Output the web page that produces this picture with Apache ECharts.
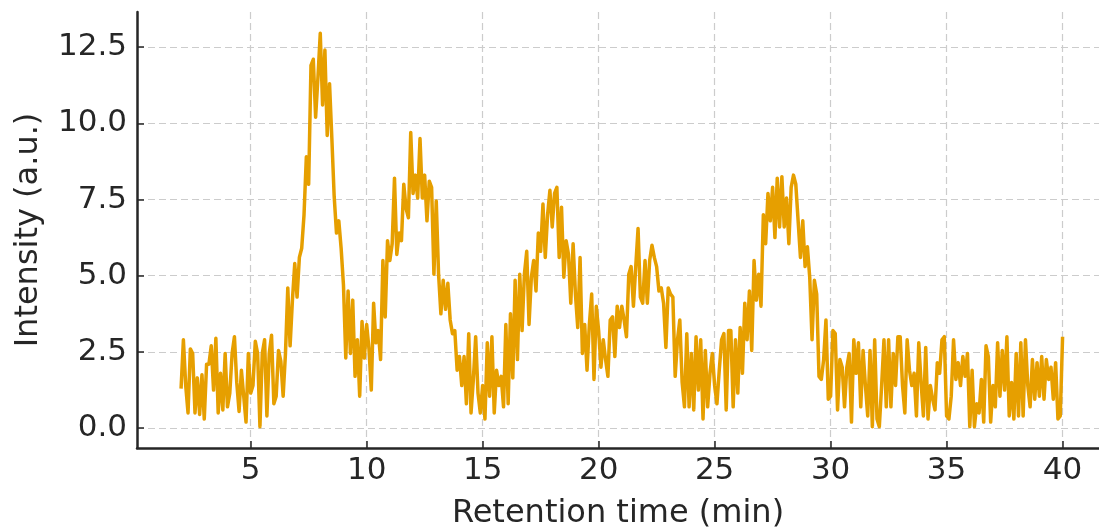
<!DOCTYPE html>
<html>
<head>
<meta charset="utf-8">
<script src="https://cdn.jsdelivr.net/npm/echarts@6/dist/echarts.min.js"></script>
<style>
  html, body { margin: 0; padding: 0; background: #fff; }
  #chart { width: 1099px; height: 528px; }
</style>
</head>
<body>
<div id="chart"></div>
<script>
// sampling grid of the trace (min)
const timeStart = 2.0;
const timeStep = 0.1;

// intensity, one value every 0.1 min
const baseline1 = [ // 2.0 - 6.6
  1.3, 2.9, 1.4, 0.5, 2.6, 2.45, 0.5, 1.65, 0.45, 1.75,
  0.3, 2.1, 2.1, 2.7, 1.25, 2.95, 0.5, 1.8, 0.6, 2.45,
  0.7, 1.15, 2.45, 3.0, 1.5, 0.55, 1.9, 1.05, 0.2, 2.45,
  1.15, 1.4, 2.85, 2.45, 0.05, 2.45, 2.9, 0.4, 2.45, 3.05,
  0.8, 1.05, 2.55, 2.2, 1.05, 2.45, 4.6
];
const peak1 = [ // 6.7 - 9.1
  2.7, 4.2, 5.4, 4.3, 5.6, 5.9, 7.0, 8.9, 8.0, 11.9,
  12.1, 10.2, 11.5, 12.95, 10.6, 12.4, 9.6, 11.3, 9.5, 7.6,
  6.4, 6.8, 5.9, 4.7, 2.3
];
const valley1 = [ // 9.2 - 11.3
  4.5, 2.45, 4.2, 1.7, 2.9, 1.05, 3.5, 2.3, 3.4, 2.6,
  1.25, 4.1, 2.8, 3.2, 2.25, 5.5, 3.65, 6.15, 5.5, 6.05,
  8.2, 5.7
];
const peak2 = [ // 11.4 - 16.1
  6.4, 6.15, 8.0, 7.2, 6.9, 9.7, 7.7, 8.3, 7.55, 9.5,
  7.55, 8.3, 6.8, 8.1, 7.9, 5.05, 7.45, 5.05, 3.75, 4.85,
  3.9, 4.75, 3.55, 3.1, 3.2, 1.9, 2.35, 1.4, 2.35, 0.8,
  3.1, 0.5, 1.6, 3.0, 1.15, 0.5, 1.4, 0.3, 2.8, 1.05,
  3.0, 0.5, 1.9, 1.4, 1.7, 0.7, 3.4, 0.8
];
const peak3 = [ // 16.2 - 20.8
  3.75, 1.65, 4.85, 2.25, 5.05, 3.2, 5.05, 5.8, 3.4, 4.95,
  5.5, 4.5, 6.4, 5.8, 7.35, 5.6, 7.0, 7.8, 6.6, 7.7,
  7.9, 5.6, 7.25, 4.95, 6.15, 5.7, 4.1, 6.05, 4.4, 3.3,
  5.6, 2.45, 3.4, 1.9, 3.4, 4.4, 1.6, 4.0, 3.2, 2.0,
  2.9, 2.25, 1.7, 3.55, 3.65, 2.35, 4.0
];
const peak4 = [ // 20.9 - 25.6
  3.3, 4.0, 3.55, 3.0, 5.05, 5.3, 4.0, 5.3, 6.55, 4.3,
  4.1, 5.5, 4.1, 5.5, 6.0, 5.6, 5.3, 4.5, 4.6, 4.1,
  2.65, 4.6, 4.4, 4.3, 1.7, 2.9, 3.55, 1.5, 0.7, 3.1,
  0.7, 2.45, 0.6, 3.0, 1.25, 2.9, 0.3, 2.55, 0.7, 1.8,
  2.45, 1.4, 0.8, 1.9, 2.9, 3.1, 0.6, 3.2
];
const peak5 = [ // 25.7 - 29.9
  3.2, 0.7, 2.9, 1.15, 3.3, 1.8, 4.1, 2.9, 4.5, 2.55,
  5.5, 4.2, 5.05, 4.0, 7.0, 6.05, 7.7, 6.8, 7.9, 6.25,
  8.2, 6.6, 8.25, 6.6, 7.55, 6.05, 7.9, 8.3, 8.0, 6.8,
  5.6, 6.8, 5.3, 5.95, 4.95, 2.9, 4.85, 4.4, 1.7, 1.6,
  2.25, 3.55, 0.95
];
const baseline2 = [ // 30.0 - 35.0
  1.05, 3.2, 3.1, 0.6, 2.25, 2.0, 0.7, 2.0, 2.45, 0.2,
  2.9, 1.8, 2.8, 0.7, 2.55, 1.4, 0.4, 2.55, 0.05, 2.9,
  0.3, 0.05, 1.4, 2.9, 0.7, 2.9, 0.7, 2.45, 1.4, 3.0,
  3.0, 1.4, 0.5, 2.9, 1.9, 1.4, 1.8, 0.4, 2.8, 1.5,
  0.4, 2.65, 0.3, 1.4, 0.95, 0.6, 2.15, 1.8, 2.9, 3.0,
  0.4
];
const baseline3 = [ // 35.1 - 40.0
  0.3, 1.05, 2.9, 1.6, 2.15, 1.4, 2.35, 1.7, 2.45, 0.05,
  1.9, 0.05, 0.8, 0.5, 1.6, 0.2, 2.7, 2.35, 0.2, 1.4,
  0.7, 2.8, 1.05, 2.55, 1.25, 3.0, 0.4, 1.5, 0.3, 2.45,
  0.4, 2.8, 0.4, 2.9, 1.4, 0.7, 2.25, 0.95, 2.15, 1.05,
  2.35, 0.95, 2.25, 1.6, 2.0, 0.95, 2.15, 0.3, 0.4, 3.0
];

const xTicks = [5, 10, 15, 20, 25, 30, 35, 40];
const yTicks = [0, 2.5, 5, 7.5, 10, 12.5];

const intensity = [].concat(baseline1, peak1, valley1, peak2, peak3, peak4, peak5, baseline2, baseline3);
const trace = intensity.map(function (v, i) {
  return [+(timeStart + i * timeStep).toFixed(1), v];
});

const chart = echarts.init(document.getElementById('chart'), null, { renderer: 'canvas' });

const textColor = '#262626';
const font = 'DejaVu Sans';
const gridLine = { show: true, lineStyle: { color: '#cccccc', type: [7, 4], width: 1.2 } };

let option = {
  animation: false,
  grid: {
    left: 137,
    right: 0,
    top: 12,
    bottom: 80,
    outerBoundsMode: 'none'
  },
  xAxis: {
    type: 'value',
    min: 0.1,
    max: 41.57, // plot runs past the right edge of the picture
    name: 'Retention time (min)',
    nameLocation: 'middle',
    nameGap: 50,
    nameTextStyle: { color: textColor, fontSize: 32, fontFamily: font },
    axisLine: { onZero: false, lineStyle: { color: textColor, width: 2.5 } },
    axisTick: { customValues: xTicks, inside: true, length: 7, lineStyle: { color: textColor, width: 1.5 } },
    axisLabel: { customValues: xTicks, color: textColor, fontSize: 31, fontFamily: font, margin: 7 },
    splitLine: gridLine
  },
  yAxis: {
    type: 'value',
    min: -0.65,
    max: 13.65,
    name: 'Intensity (a.u.)',
    nameLocation: 'middle',
    nameGap: 92,
    nameTextStyle: { color: textColor, fontSize: 32, fontFamily: font },
    axisLine: { show: true, onZero: false, lineStyle: { color: textColor, width: 2.5 } },
    axisTick: { show: true, customValues: yTicks, inside: true, length: 7, lineStyle: { color: textColor, width: 1.5 } },
    axisLabel: {
      customValues: yTicks,
      color: textColor,
      fontSize: 31,
      fontFamily: font,
      margin: 10,
      formatter: function (v) { return v.toFixed(1); }
    },
    splitLine: gridLine
  },
  series: [{
    type: 'line',
    data: trace,
    showSymbol: false,
    lineStyle: { color: '#E69F00', width: 3.5, join: 'round' },
    itemStyle: { color: '#E69F00' }
  }]
};

chart.setOption(option);
</script>
</body>
</html>
